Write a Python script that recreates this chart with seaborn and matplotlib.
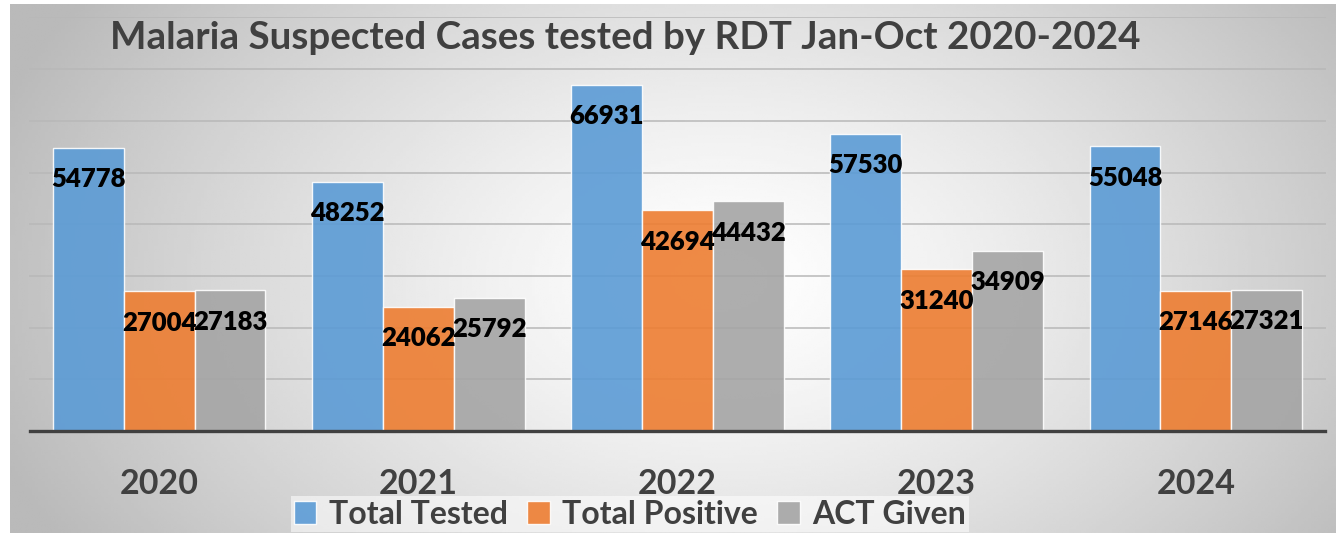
import numpy as np
import pandas as pd
import matplotlib
matplotlib.use('Agg')
import matplotlib.pyplot as plt
import seaborn as sns

# values
years = ['2020', '2021', '2022', '2023', '2024']
total_tested = [54778, 48252, 66931, 57530, 55048]
total_positive = [27004, 24062, 42694, 31240, 27146]
act_given = [27183, 25792, 44432, 34909, 27321]
series = ['Total Tested', 'Total Positive', 'ACT Given']
colors = ['#5B9BD5', '#ED7D31', '#A5A5A5']

df = pd.DataFrame({'Year': years * 3,
                   'Series': [s for s in series for _ in years],
                   'Cases': total_tested + total_positive + act_given})

sns.set_theme(style='white')
plt.rcParams['font.family'] = ['Lato', 'DejaVu Sans']
plt.rcParams['font.weight'] = 'bold'

W, H = 1340, 533
fig = plt.figure(figsize=(W / 100, H / 100), dpi=100)
fig.patch.set_facecolor('white')

# radial gray-white background of the chart frame
bg = fig.add_axes([10 / W, 0, 1326 / W, 529 / H])
xx, yy = np.meshgrid(np.linspace(10, 1336, 400), np.linspace(4, 533, 200))
d = np.sqrt(((xx - 720) / 700) ** 2 + ((yy - 280) / 460) ** 2)
shade = 1 - 0.24 * np.clip(d, 0, 1.1) ** 1.3
bg.imshow(shade, cmap='gray', vmin=0, vmax=1, aspect='auto',
          extent=[0, 1, 0, 1], interpolation='bilinear')
bg.axis('off')

ax = fig.add_axes([29.5 / W, 1 - 431 / H, 1296 / W, (431 - 17.4) / H])
ax.patch.set_alpha(0)
sns.barplot(data=df, x='Year', y='Cases', hue='Series', palette=colors,
            width=0.82, edgecolor='white', linewidth=1, alpha=0.9,
            saturation=1, ax=ax, legend=True, zorder=3)

ax.set_ylim(0, 80000)
ax.set_yticks(np.arange(0, 80001, 10000))
ax.yaxis.grid(True, color='#b8b8b8', linewidth=1.1, zorder=1)
ax.set_axisbelow(True)
ax.tick_params(axis='y', left=False, labelleft=False)
ax.tick_params(axis='x', bottom=False, pad=21, labelsize=24.5,
               labelcolor='#404040')
for lbl in ax.get_xticklabels():
    lbl.set_fontweight('bold')
ax.set_xlabel('')
ax.set_ylabel('')
for side in ['top', 'right', 'left']:
    ax.spines[side].set_visible(False)
ax.spines['bottom'].set_color('#404040')
ax.spines['bottom'].set_linewidth(2.4)
ax.spines['bottom'].set_zorder(5)

# value labels inside the top of each bar
for cont in ax.containers:
    for bar in cont:
        ax.annotate(f'{int(bar.get_height())}',
                    (bar.get_x() + bar.get_width() / 2, bar.get_height()),
                    xytext=(0, -22.5), textcoords='offset points',
                    ha='center', va='center', fontsize=18.5,
                    fontweight='heavy', color='black', zorder=6)

handles, labels = ax.get_legend_handles_labels()
ax.get_legend().remove()
leg = fig.legend(handles, labels, loc='center', ncol=3,
                 bbox_to_anchor=(630 / W, 1 - 514 / H),
                 fontsize=23, frameon=True, facecolor='white',
                 framealpha=0.55, edgecolor='none', fancybox=False,
                 handlelength=0.7, handleheight=0.7, handletextpad=0.4,
                 columnspacing=0.6, borderpad=0.1)
for t in leg.get_texts():
    t.set_color('#404040')
    t.set_fontweight('bold')

fig.text(625 / W, 1 - 38 / H,
         'Malaria Suspected Cases tested by RDT Jan-Oct 2020-2024',
         ha='center', va='center', fontsize=27.7, fontweight='bold',
         color='#404040')

fig.savefig('out.png', dpi=100)
